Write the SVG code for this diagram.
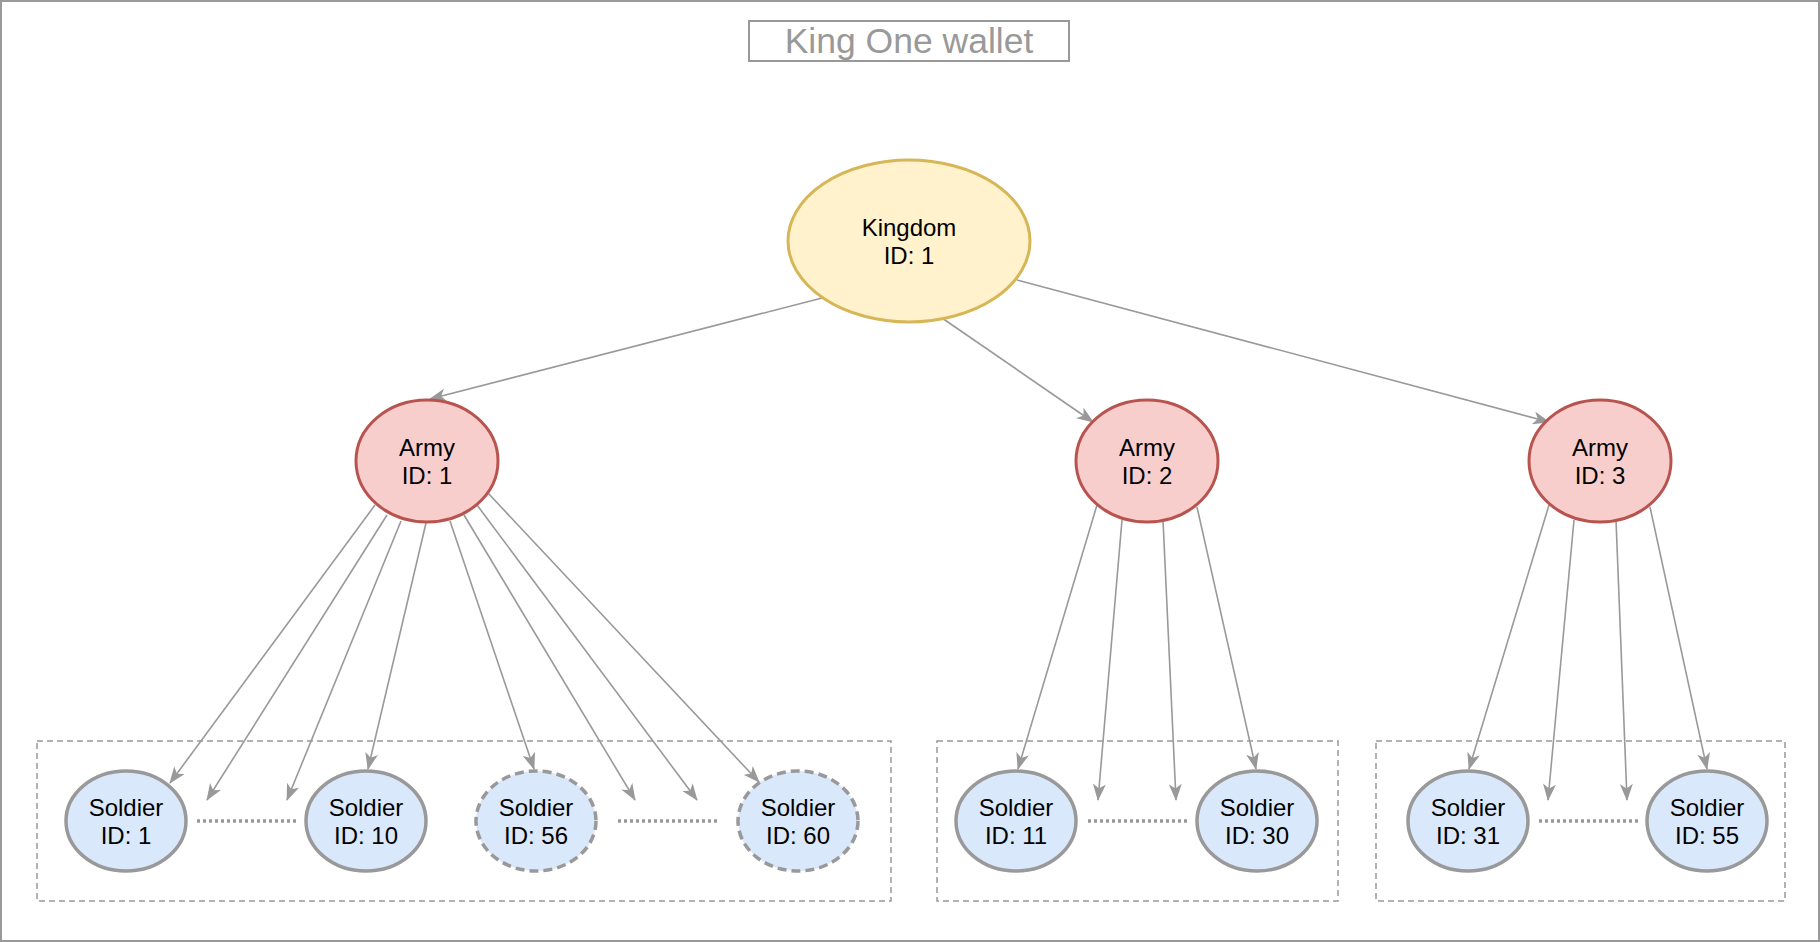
<svg xmlns="http://www.w3.org/2000/svg" width="1820" height="942" viewBox="0 0 1820 942">
<style>
.lbl{font-family:"Liberation Sans",Arial,sans-serif;font-size:24px;fill:#000;text-anchor:middle}
.title{font-family:"Liberation Sans",Arial,sans-serif;font-size:35.5px;fill:#999;text-anchor:middle}
.kingdom{fill:#fff2cc;stroke:#d6b656;stroke-width:3}
.army{fill:#f8cecc;stroke:#b85450;stroke-width:3}
.soldier{fill:#dae8fc;stroke:#999;stroke-width:3.5}
.ghost{fill:#dae8fc;stroke:#999;stroke-width:3.5;stroke-dasharray:9 5}
.group{fill:none;stroke:#999;stroke-width:1.5;stroke-dasharray:6 4}
.edge{fill:none;stroke:#999;stroke-width:1.6;marker-end:url(#arr)}
.dots{fill:none;stroke:#999;stroke-width:3.5;stroke-dasharray:3 3}
</style>
<defs>
<marker id="arr" viewBox="0 0 17 13" refX="16" refY="6.5" markerWidth="17" markerHeight="13" markerUnits="userSpaceOnUse" orient="auto">
<path d="M0,0 L17,6.5 L0,13 L4.5,6.5 Z" fill="#999"/>
</marker>
</defs>
<rect x="0" y="0" width="1820" height="942" fill="#fff"/>
<rect x="1" y="1" width="1818" height="940" fill="none" stroke="#999" stroke-width="2"/>
<g id="title">
<rect x="749" y="21" width="320" height="40" fill="none" stroke="#999" stroke-width="2"/>
<text class="title" x="909" y="53">King One wallet</text>
</g>
<g id="groups">
<rect class="group" x="37" y="741" width="854" height="160"/>
<rect class="group" x="937" y="741" width="401" height="160"/>
<rect class="group" x="1376" y="741" width="409" height="160"/>
</g>
<g id="connectors">
<line class="edge" x1="822" y1="298" x2="430" y2="399"/>
<line class="edge" x1="942" y1="318" x2="1093" y2="422"/>
<line class="edge" x1="1017" y1="280" x2="1549" y2="422"/>
<line class="edge" x1="375" y1="505" x2="170" y2="783"/>
<line class="edge" x1="387" y1="515" x2="207" y2="800"/>
<line class="edge" x1="401" y1="521" x2="287" y2="800"/>
<line class="edge" x1="426" y1="523" x2="368" y2="769"/>
<line class="edge" x1="450" y1="521" x2="534" y2="769"/>
<line class="edge" x1="464" y1="515" x2="635" y2="800"/>
<line class="edge" x1="477" y1="505" x2="697" y2="800"/>
<line class="edge" x1="488" y1="493" x2="759" y2="782"/>
<line class="edge" x1="1097" y1="505" x2="1018" y2="769"/>
<line class="edge" x1="1122" y1="520" x2="1098" y2="800"/>
<line class="edge" x1="1163" y1="520" x2="1176" y2="800"/>
<line class="edge" x1="1197" y1="507" x2="1256" y2="769"/>
<line class="edge" x1="1549" y1="505" x2="1469" y2="769"/>
<line class="edge" x1="1574" y1="520" x2="1548" y2="800"/>
<line class="edge" x1="1616" y1="520" x2="1627" y2="800"/>
<line class="edge" x1="1650" y1="507" x2="1707" y2="769"/>
<line class="dots" x1="197" y1="821" x2="298" y2="821"/>
<line class="dots" x1="618" y1="821" x2="717" y2="821"/>
<line class="dots" x1="1088" y1="821" x2="1187" y2="821"/>
<line class="dots" x1="1539" y1="821" x2="1638" y2="821"/>
</g>
<g id="kingdom1">
<ellipse class="kingdom" cx="909" cy="241" rx="121" ry="81"/>
<text class="lbl" x="909" y="236">Kingdom</text>
<text class="lbl" x="909" y="264">ID: 1</text>
</g>
<g id="army1">
<ellipse class="army" cx="427" cy="461" rx="71" ry="61"/>
<text class="lbl" x="427" y="456">Army</text>
<text class="lbl" x="427" y="484">ID: 1</text>
</g>
<g id="army2">
<ellipse class="army" cx="1147" cy="461" rx="71" ry="61"/>
<text class="lbl" x="1147" y="456">Army</text>
<text class="lbl" x="1147" y="484">ID: 2</text>
</g>
<g id="army3">
<ellipse class="army" cx="1600" cy="461" rx="71" ry="61"/>
<text class="lbl" x="1600" y="456">Army</text>
<text class="lbl" x="1600" y="484">ID: 3</text>
</g>
<g id="soldier1">
<ellipse class="soldier" cx="126" cy="821" rx="60" ry="50"/>
<text class="lbl" x="126" y="816">Soldier</text>
<text class="lbl" x="126" y="844">ID: 1</text>
</g>
<g id="soldier10">
<ellipse class="soldier" cx="366" cy="821" rx="60" ry="50"/>
<text class="lbl" x="366" y="816">Soldier</text>
<text class="lbl" x="366" y="844">ID: 10</text>
</g>
<g id="soldier56">
<ellipse class="ghost" cx="536" cy="821" rx="60" ry="50"/>
<text class="lbl" x="536" y="816">Soldier</text>
<text class="lbl" x="536" y="844">ID: 56</text>
</g>
<g id="soldier60">
<ellipse class="ghost" cx="798" cy="821" rx="60" ry="50"/>
<text class="lbl" x="798" y="816">Soldier</text>
<text class="lbl" x="798" y="844">ID: 60</text>
</g>
<g id="soldier11">
<ellipse class="soldier" cx="1016" cy="821" rx="60" ry="50"/>
<text class="lbl" x="1016" y="816">Soldier</text>
<text class="lbl" x="1016" y="844">ID: 11</text>
</g>
<g id="soldier30">
<ellipse class="soldier" cx="1257" cy="821" rx="60" ry="50"/>
<text class="lbl" x="1257" y="816">Soldier</text>
<text class="lbl" x="1257" y="844">ID: 30</text>
</g>
<g id="soldier31">
<ellipse class="soldier" cx="1468" cy="821" rx="60" ry="50"/>
<text class="lbl" x="1468" y="816">Soldier</text>
<text class="lbl" x="1468" y="844">ID: 31</text>
</g>
<g id="soldier55">
<ellipse class="soldier" cx="1707" cy="821" rx="60" ry="50"/>
<text class="lbl" x="1707" y="816">Soldier</text>
<text class="lbl" x="1707" y="844">ID: 55</text>
</g>
</svg>
